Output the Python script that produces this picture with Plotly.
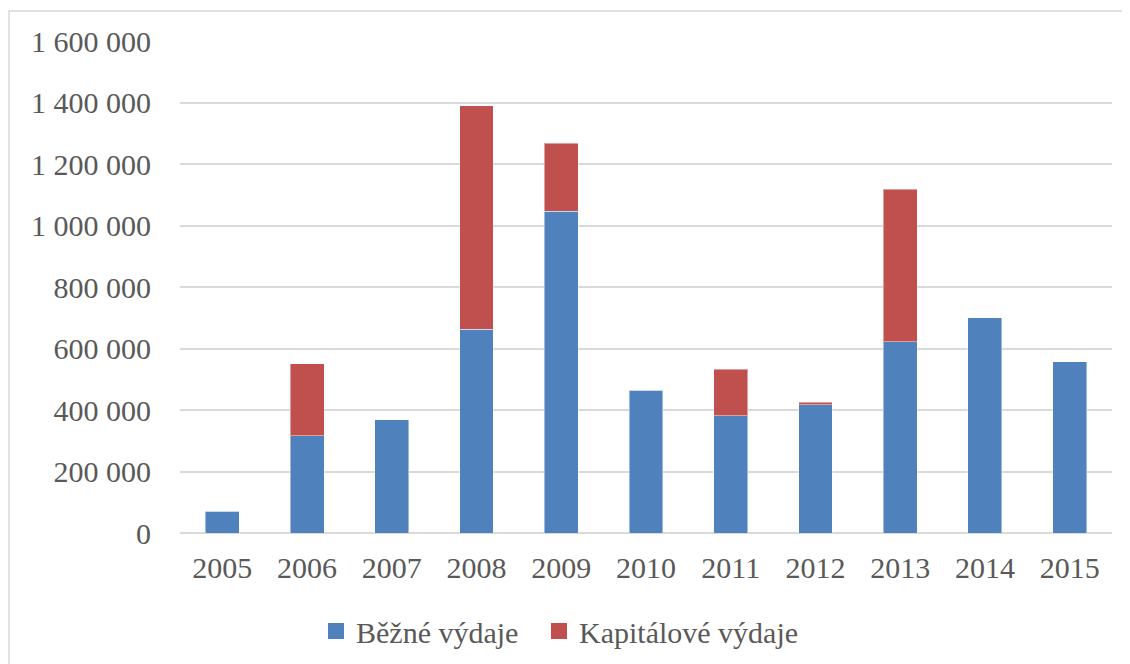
import plotly.graph_objects as go

years = ["2005", "2006", "2007", "2008", "2009", "2010", "2011", "2012", "2013", "2014", "2015"]
bezne = [70000, 317000, 369000, 663000, 1046000, 465000, 381000, 417000, 622000, 700000, 557000]
kapitalove = [0, 233000, 0, 726000, 221000, 0, 152000, 7500, 496000, 0, 0]
series_names = ["Běžné výdaje", "Kapitálové výdaje"]
colors = ["#4f81bd", "#c0504d"]
y_ticks = [0, 200000, 400000, 600000, 800000, 1000000, 1200000, 1400000, 1600000]

# page body has an 8px default margin; figure coordinates are offset by it
OFF = 8
W, H = 1130, 664
L, R, T, B = 180 - OFF, 18 + OFF, 41 - OFF, 131 + OFF

fig = go.Figure()
for name, vals, col in zip(series_names, [bezne, kapitalove], colors):
    fig.add_trace(go.Bar(
        x=years, y=vals, name=name, showlegend=False,
        marker=dict(color=col, line=dict(color="rgba(255,255,255,0.45)", width=1)),
    ))
# legend entries with larger square swatches, one legend box each
for name, col, lg in zip(series_names, colors, ["legend", "legend2"]):
    fig.add_trace(go.Scatter(
        x=[None], y=[None], name=name, mode="markers", legend=lg,
        marker=dict(symbol="square", size=16, color=col),
    ))

font = "Liberation Serif"
pw, ph = W - L - R, H - T - B
leg_y = -(631 - OFF - (H - B)) / ph
leg_common = dict(orientation="h", xanchor="left", y=leg_y, yanchor="middle",
                  font=dict(family=font, size=30, color="#595959"),
                  itemwidth=30, bgcolor="rgba(0,0,0,0)")

fig.update_layout(
    width=W, height=H,
    barmode="stack", bargap=0.6,
    margin=dict(l=L, r=R, t=T, b=B, pad=0),
    paper_bgcolor="white", plot_bgcolor="white",
    separators=", ",
    font=dict(family=font, size=30, color="#595959"),
    showlegend=True,
    legend=dict(x=(316 - OFF - L) / pw, **leg_common),
    legend2=dict(x=(539 - OFF - L) / pw, **leg_common),
    xaxis=dict(showgrid=False, showline=False, ticks="", ticklabelstandoff=14,
               tickfont=dict(family=font, size=30, color="#595959")),
    yaxis=dict(range=[0, 1600000], tickvals=y_ticks, tickformat=",d",
               showgrid=True, gridcolor="#d9d9d9", gridwidth=1.5,
               zeroline=True, zerolinecolor="#d9d9d9", zerolinewidth=1.5,
               showline=False, ticks="", ticklabelstandoff=28,
               tickfont=dict(family=font, size=30, color="#595959")),
    shapes=[dict(type="rect", xref="paper", yref="paper",
                 x0=(1 - L) / pw, x1=(W + 20 - L) / pw,
                 y0=(H - B - (H + 20)) / ph, y1=(H - B - (11 - OFF)) / ph,
                 line=dict(color="#d9d9d9", width=1.5), fillcolor="rgba(0,0,0,0)", layer="below")],
)

fig.write_html("out.html")
